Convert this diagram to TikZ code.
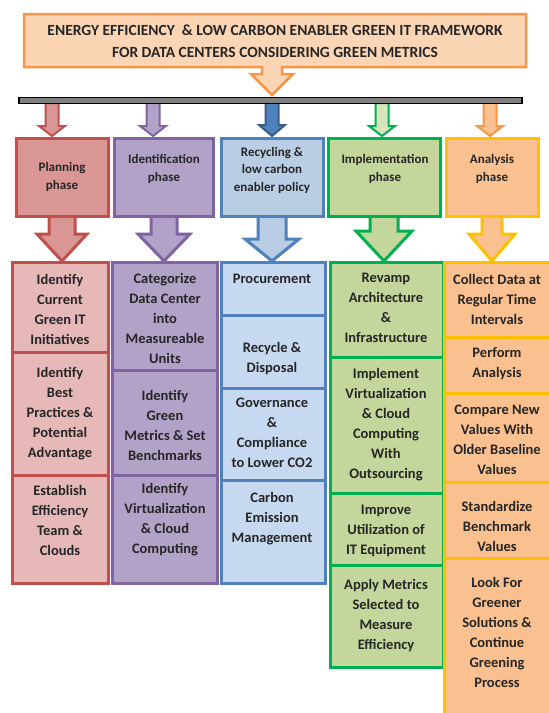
\documentclass[tikz,border=0pt]{standalone}
\usepackage{fontspec}
\setmainfont{Carlito}
\usetikzlibrary{positioning}
\definecolor{redline}{HTML}{C0504D}
\definecolor{redtop}{HTML}{D99694}
\definecolor{redlow}{HTML}{E6B9B8}
\definecolor{purpline}{HTML}{8064A2}
\definecolor{purptop}{HTML}{B3A2C7}
\definecolor{blueline}{HTML}{4F81BD}
\definecolor{bluedark}{HTML}{385D8A}
\definecolor{bluetop}{HTML}{B9CDE5}
\definecolor{bluelow}{HTML}{C6D9F1}
\definecolor{greenline}{HTML}{00B050}
\definecolor{greentop}{HTML}{C3D69B}
\definecolor{greenpale}{HTML}{D7E4BD}
\definecolor{orangeline}{HTML}{FFC000}
\definecolor{orangetop}{HTML}{FAC090}
\definecolor{orangeedge}{HTML}{F79646}
\definecolor{titlefill}{HTML}{FCD5B5}
\begin{document}
\begin{tikzpicture}[x=1pt, y=-1pt,
    txt/.style={align=center, inner sep=0pt, text=black!85, font=\bfseries\fontsize{14.5}{20}\selectfont},
    ptxt/.style={align=center, inner sep=0pt, text=black!85, font=\bfseries\fontsize{13}{17.5}\selectfont},
    pbox/.style={draw, line width=3pt, minimum height=78pt},
    cell/.style={line width=3pt},
    tip/.style={line width=2pt, line join=miter}
]
\useasboundingbox (0,0) rectangle (549,713);
\clip (0,0) rectangle (549,713);
% block arrow: style, x, top, tip, shaft half, head half, head length
\newcommand{\blockarr}[7]{
    \draw[#1] (#2-#5,#3) -- (#2+#5,#3) -- (#2+#5,#4-#7) -- (#2+#6,#4-#7)
        -- (#2,#4) -- (#2-#6,#4-#7) -- (#2-#5,#4-#7) -- cycle;
}

% small arrows from the bar
\blockarr{tip, draw=redline, fill=redtop}{52}{103}{136}{6.5}{13}{10}
\blockarr{tip, draw=purpline, fill=purptop}{153}{103}{136}{6.5}{13}{10}
\blockarr{tip, draw=bluedark, fill=blueline}{272}{103}{136}{6.5}{13}{11}
\blockarr{tip, draw=greenline, fill=greenpale}{382}{103}{136}{6.5}{13}{10}
\blockarr{tip, draw=orangeedge, fill=orangetop}{490}{103}{136}{6.5}{13}{10}

% bar
\node[draw=black, fill=black!50, line width=1.6pt, minimum width=503pt, minimum height=6pt, inner sep=0pt] (bar) at (270.5,100.5) {};

% title callout
\draw[line width=2.5pt, draw=orangeedge, fill=titlefill, line join=miter]
    (24,14) -- (526,14) -- (526,67) -- (282,67) -- (282,74) -- (293,74) -- (272,95)
    -- (251,74) -- (262,74) -- (262,67) -- (24,67) -- cycle;
\node[align=center, inner sep=0pt, text=black!85, font=\bfseries\fontsize{15.5}{22}\selectfont] (title) at (275,41)
    {ENERGY EFFICIENCY \ \& LOW CARBON ENABLER GREEN IT FRAMEWORK\\FOR DATA CENTERS CONSIDERING GREEN METRICS};

% big arrows below the phases
\blockarr{cell, draw=redline, fill=redtop}{62}{216}{261}{13}{25}{27}
\blockarr{cell, draw=purpline, fill=purptop}{164}{216}{261}{13}{26}{27}
\blockarr{cell, draw=blueline, fill=bluetop}{272}{216}{261}{14}{27}{22}
\blockarr{cell, draw=greenline, fill=greentop}{384}{216}{261}{14}{28}{30}
\blockarr{cell, draw=orangeline, fill=orangetop}{492}{216}{261}{10}{23}{27}

% phase boxes
\node[pbox, draw=redline, fill=redtop, minimum width=92pt] (plan) at (62.5,177.5) {};
\node[pbox, draw=purpline, fill=purptop, minimum width=99pt] (ident) at (164,177.5) {};
\node[pbox, draw=blueline, fill=bluetop, minimum width=102pt] (recyc) at (272.5,177.5) {};
\node[pbox, draw=greenline, fill=greentop, minimum width=112pt] (impl) at (384.5,177.5) {};
\node[pbox, draw=orangeline, fill=orangetop, minimum width=92pt] (anal) at (492.5,177.5) {};
\node[ptxt] (plan-l) at (62,177) {Planning\\phase};
\node[ptxt] (ident-l) at (164,169) {Identification\\phase};
\node[ptxt] (recyc-l) at (272,170) {Recycling \&\\low carbon\\enabler policy};
\node[ptxt] (impl-l) at (385,169) {Implementation\\phase};
\node[ptxt] (anal-l) at (492,169) {Analysis\\phase};

% planning column
\draw[cell, draw=redline, fill=redlow] (12,262) rectangle (108,352);
\draw[cell, draw=redline, fill=redlow] (12,352) rectangle (108,475);
\draw[cell, draw=redline, fill=redlow] (12,475) rectangle (108,583);
\node[txt] (r1) at (60,309) {Identify\\Current\\Green IT\\Initiatives};
\node[txt] (r2) at (60,414) {Identify\\Best\\Practices \&\\Potential\\Advantage};
\node[txt] (r3) at (60,520) {Establish\\Efficiency\\Team \&\\Clouds};

% identification column
\draw[cell, draw=purpline, fill=purptop] (112,262) rectangle (217,370);
\draw[cell, draw=purpline, fill=purptop] (112,370) rectangle (217,475);
\draw[cell, draw=purpline, fill=purptop] (112,475) rectangle (217,583);
\node[txt] (p1) at (165,318) {Categorize\\Data Center\\into\\Measureable\\Units};
\node[txt] (p2) at (165,425) {Identify\\Green\\Metrics \& Set\\Benchmarks};
\node[txt] (p3) at (165,520) {Identify\\Virtualization\\\& Cloud\\Computing};

% recycling column
\draw[cell, draw=blueline, fill=bluelow] (221,262) rectangle (325,315);
\draw[cell, draw=blueline, fill=bluelow] (221,315) rectangle (325,388);
\draw[cell, draw=blueline, fill=bluelow] (221,388) rectangle (325,480);
\draw[cell, draw=blueline, fill=bluelow] (221,480) rectangle (325,583);
\node[txt] (b1) at (272,279) {Procurement};
\node[txt] (b2) at (272,359) {Recycle \&\\Disposal};
\node[txt] (b3) at (272,433) {Governance\\\&\\Compliance\\to Lower CO2};
\node[txt] (b4) at (272,519) {Carbon\\Emission\\Management};

% implementation column
\draw[cell, draw=greenline, fill=greentop] (330,262) rectangle (443,357);
\draw[cell, draw=greenline, fill=greentop] (330,357) rectangle (443,493);
\draw[cell, draw=greenline, fill=greentop] (330,493) rectangle (443,565);
\draw[cell, draw=greenline, fill=greentop] (330,565) rectangle (443,667);
\node[txt] (g1) at (386,308) {Revamp\\Architecture\\\&\\Infrastructure};
\node[txt] (g2) at (386,425) {Implement\\Virtualization\\\& Cloud\\Computing\\With\\Outsourcing};
\node[txt] (g3) at (386,531) {Improve\\Utilization of\\IT Equipment};
\node[txt] (g4) at (386,616) {Apply Metrics\\Selected to\\Measure\\Efficiency};

% analysis column
\draw[cell, draw=orangeline, fill=orangetop] (444,262) rectangle (553,337);
\draw[cell, draw=orangeline, fill=orangetop] (444,337) rectangle (553,393);
\draw[cell, draw=orangeline, fill=orangetop] (444,393) rectangle (553,482);
\draw[cell, draw=orangeline, fill=orangetop] (444,482) rectangle (553,558);
\draw[cell, draw=orangeline, fill=orangetop] (444,558) rectangle (553,718);
\node[txt] (o1) at (497,299) {Collect Data at\\Regular Time\\Intervals};
\node[txt] (o2) at (497,364) {Perform\\Analysis};
\node[txt] (o3) at (497,440) {Compare New\\Values With\\Older Baseline\\Values};
\node[txt] (o4) at (497,526) {Standardize\\Benchmark\\Values};
\node[txt] (o5) at (497,632) {Look For\\Greener\\Solutions \&\\Continue\\Greening\\Process};
\end{tikzpicture}
\end{document}
